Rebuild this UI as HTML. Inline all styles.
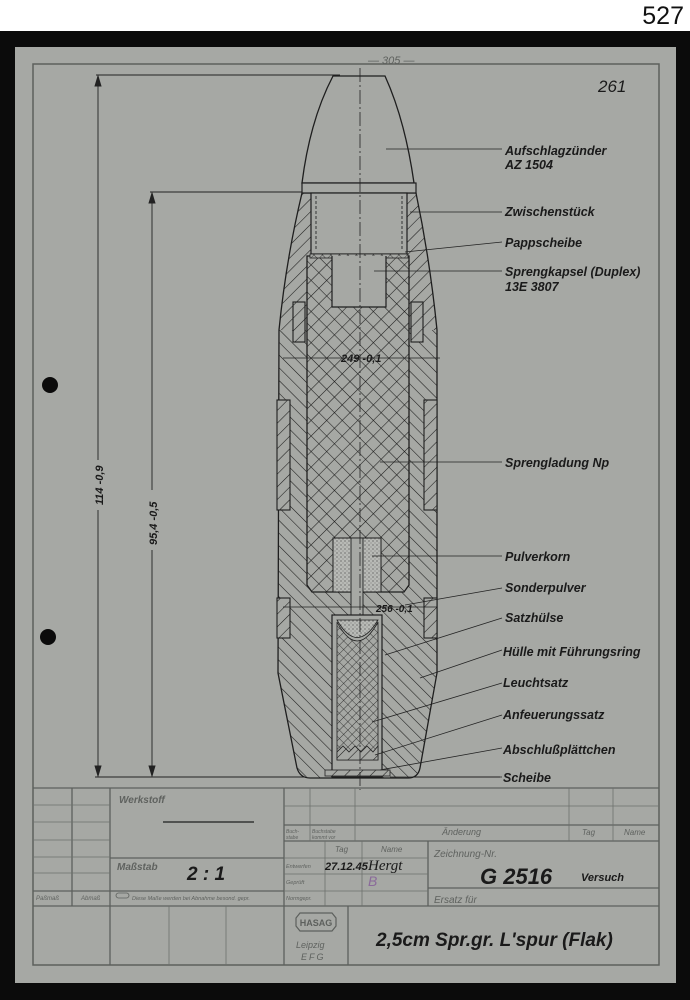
<!DOCTYPE html>
<html><head><meta charset="utf-8">
<style>
html,body{margin:0;padding:0;background:#fff;}
body{width:690px;height:1000px;position:relative;overflow:hidden;font-family:"Liberation Sans",sans-serif;}
.t{font-family:"Liberation Sans",sans-serif;font-style:italic;fill:#1a1a1a;}
.g{font-family:"Liberation Sans",sans-serif;font-style:italic;fill:#5f625f;}
</style></head><body>
<div style="position:absolute;right:6px;top:2px;font-size:25px;color:#111;">527</div>
<svg width="690" height="1000" style="position:absolute;left:0;top:0" xmlns="http://www.w3.org/2000/svg">
<defs>
<pattern id="hd" width="9" height="9" patternUnits="userSpaceOnUse" patternTransform="rotate(45)"><rect width="9" height="9" fill="#a6a8a4"/><line x1="0" y1="0" x2="0" y2="9" stroke="#1a1a1a" stroke-width="1.1"/></pattern>
<pattern id="hd2" width="9" height="9" patternUnits="userSpaceOnUse" patternTransform="rotate(-45)"><rect width="9" height="9" fill="#a6a8a4"/><line x1="0" y1="0" x2="0" y2="9" stroke="#1a1a1a" stroke-width="1.1"/></pattern>
<pattern id="xh" width="11" height="11" patternUnits="userSpaceOnUse" patternTransform="rotate(45)"><rect width="11" height="11" fill="#a6a8a4"/><line x1="0" y1="0" x2="0" y2="11" stroke="#1a1a1a" stroke-width="1.1"/><line x1="0" y1="0" x2="11" y2="0" stroke="#1a1a1a" stroke-width="1.1"/></pattern>
<pattern id="xs" width="6" height="6" patternUnits="userSpaceOnUse" patternTransform="rotate(45)"><rect width="6" height="6" fill="#a6a8a4"/><line x1="0" y1="0" x2="0" y2="6" stroke="#222" stroke-width="0.8"/><line x1="0" y1="0" x2="6" y2="0" stroke="#222" stroke-width="0.8"/></pattern>
<pattern id="dots" width="4" height="4" patternUnits="userSpaceOnUse"><rect width="4" height="4" fill="#b8bab6"/><circle cx="1" cy="1" r="0.6" fill="#444"/><circle cx="3" cy="3" r="0.5" fill="#666"/></pattern>
<clipPath id="bodyclip"><path d="M302 193 Q286 260 279 330 L278 673 L297 768 Q300 778 310 778 L408 778 Q418 778 420 768 L437 673 L437 330 Q430 260 416 193 Z"/></clipPath>
</defs>
<rect x="0" y="31" width="690" height="969" fill="#0b0b0b"/>
<rect x="15" y="47" width="661" height="936" fill="#a6a8a4"/>
<rect x="33" y="64" width="626" height="901" fill="none" stroke="#5d605d" stroke-width="1.5"/>
<circle cx="50" cy="385" r="8" fill="#0b0b0b"/><circle cx="48" cy="637" r="8" fill="#0b0b0b"/>
<text x="368" y="64" class="g" font-size="11" fill="#777">— 305 —</text>
<text x="598" y="92" class="t" font-size="17" fill="#333">261</text>

<g stroke="#222" stroke-width="0.9" fill="#222">
<line x1="96" y1="75" x2="340" y2="75"/>
<line x1="150" y1="192" x2="305" y2="192"/>
<line x1="95" y1="777" x2="500" y2="777"/>
<line x1="98" y1="77" x2="98" y2="460"/><line x1="98" y1="510" x2="98" y2="775"/>
<line x1="152" y1="194" x2="152" y2="490"/><line x1="152" y1="550" x2="152" y2="775"/>
<path d="M98 76 l-3 10 h6z M98 776 l-3 -10 h6z M152 193 l-3 10 h6z M152 776 l-3 -10 h6z"/>
</g>
<text class="t" font-size="11" font-weight="bold" transform="translate(103,505) rotate(-90)">114 -0,9</text>
<text class="t" font-size="11" font-weight="bold" transform="translate(157,545) rotate(-90)">95,4 -0,5</text>

<g clip-path="url(#bodyclip)">
<rect x="270" y="190" width="180" height="140" fill="url(#hd)"/>
<rect x="270" y="330" width="180" height="460" fill="url(#hd2)"/>
</g>
<path d="M302 193 Q286 260 279 330 L278 673 L297 768 Q300 778 310 778 L408 778 Q418 778 420 768 L437 673 L437 330 Q430 260 416 193 Z" fill="none" stroke="#1e1e1e" stroke-width="1.3"/>
<g fill="url(#hd)" stroke="#1e1e1e" stroke-width="1.1">
<rect x="277" y="400" width="13" height="110"/><rect x="424" y="400" width="13" height="110"/>
<rect x="277" y="598" width="13" height="40"/><rect x="424" y="598" width="13" height="40"/>
<rect x="293" y="302" width="12" height="40"/><rect x="411" y="302" width="12" height="40"/>
</g>
<path d="M333 76 L385 76 Q405 120 414 183 L302 183 Q310 120 333 76Z" fill="#a6a8a4" stroke="#1e1e1e" stroke-width="1.3"/>
<rect x="302" y="183" width="114" height="10" fill="#a6a8a4" stroke="#1e1e1e" stroke-width="1.2"/>
<rect x="311" y="193" width="96" height="61" fill="#a6a8a4" stroke="#1e1e1e" stroke-width="1.2"/>
<line x1="316" y1="196" x2="316" y2="250" stroke="#333" stroke-dasharray="3,2"/>
<line x1="402" y1="196" x2="402" y2="250" stroke="#333" stroke-dasharray="3,2"/>
<path d="M307 256 L409 256 L409 585 L404 592 L312 592 L307 585Z" fill="url(#xh)" stroke="#1e1e1e" stroke-width="1.3"/>
<rect x="310" y="254" width="98" height="4" fill="url(#xs)" stroke="#222" stroke-width="0.8"/>
<path d="M332 256 L332 307 L386 307 L386 256" fill="#a6a8a4" stroke="#1e1e1e" stroke-width="1.2"/>
<rect x="333" y="538" width="48" height="54" fill="url(#dots)" stroke="#1e1e1e" stroke-width="1"/>
<rect x="351" y="538" width="12" height="77" fill="#a6a8a4" stroke="#1e1e1e" stroke-width="0.9"/>
<rect x="332" y="615" width="50" height="162" fill="#a6a8a4" stroke="#1e1e1e" stroke-width="1.2"/>
<path d="M337 622 Q357 660 378 622 L378 760 L337 760Z" fill="url(#xs)" stroke="#222" stroke-width="0.8"/>
<path d="M337 620 Q357 655 378 620Z" fill="url(#dots)" stroke="#222" stroke-width="0.8"/>
<path d="M337 752 l6 -6 l6 6 l6 -6 l6 6 l6 -6 l6 6 l5 -6 V760 H337Z" fill="url(#hd)" stroke="#222" stroke-width="0.8"/>
<rect x="325" y="770" width="65" height="6" fill="url(#hd)" stroke="#222" stroke-width="0.8"/>
<line x1="360" y1="68" x2="360" y2="790" stroke="#222" stroke-width="0.8" stroke-dasharray="14,3,2,3"/>
<line x1="283" y1="358" x2="440" y2="358" stroke="#222" stroke-width="0.8"/>
<text x="341" y="362" class="t" font-size="11" font-weight="bold">249 -0,1</text>
<line x1="283" y1="607" x2="437" y2="607" stroke="#222" stroke-width="0.8"/>
<text x="376" y="612" class="t" font-size="10" font-weight="bold">256 -0,1</text>

<g stroke="#222" stroke-width="0.8" fill="none">
<path d="M386 149 L502 149"/><path d="M410 212 L502 212"/><path d="M405 252 L502 242"/>
<path d="M374 271 L502 271"/><path d="M380 462 L502 462"/><path d="M372 556 L502 556"/>
<path d="M405 605 L502 588"/><path d="M385 655 L502 618"/><path d="M420 678 L502 650"/>
<path d="M372 722 L502 683"/><path d="M375 755 L502 715"/><path d="M380 770 L502 748"/>
<path d="M390 777 L502 777"/>
</g>
<g class="t" font-size="12.5" font-weight="bold">
<text x="505" y="155">Aufschlagzünder</text><text x="505" y="169">AZ  1504</text>
<text x="505" y="216">Zwischenstück</text>
<text x="505" y="247">Pappscheibe</text>
<text x="505" y="276">Sprengkapsel (Duplex)</text><text x="505" y="291">13E  3807</text>
<text x="505" y="467">Sprengladung  Np</text>
<text x="505" y="561">Pulverkorn</text>
<text x="505" y="592">Sonderpulver</text>
<text x="505" y="622">Satzhülse</text>
<text x="503" y="656">Hülle mit Führungsring</text>
<text x="503" y="687">Leuchtsatz</text>
<text x="503" y="719">Anfeuerungssatz</text>
<text x="503" y="754">Abschlußplättchen</text>
<text x="503" y="782">Scheibe</text>
</g>

<g stroke="#5d605d" stroke-width="1.3" fill="none">
<line x1="33" y1="788" x2="659" y2="788"/>
<line x1="33" y1="906" x2="659" y2="906"/>
<line x1="72" y1="788" x2="72" y2="906"/>
<line x1="110" y1="788" x2="110" y2="965"/>
<line x1="284" y1="788" x2="284" y2="965"/>
<line x1="33" y1="891" x2="284" y2="891"/>
<line x1="110" y1="858" x2="284" y2="858"/>
<line x1="284" y1="841" x2="659" y2="841"/>
<line x1="284" y1="825" x2="659" y2="825"/>
<line x1="428" y1="888" x2="659" y2="888"/>
<line x1="428" y1="841" x2="428" y2="906"/>
<line x1="348" y1="906" x2="348" y2="965"/>
</g>
<g stroke="#6d706d" stroke-width="0.8" fill="none">
<line x1="33" y1="805" x2="110" y2="805"/><line x1="33" y1="822" x2="110" y2="822"/>
<line x1="33" y1="840" x2="110" y2="840"/><line x1="33" y1="857" x2="110" y2="857"/>
<line x1="33" y1="873" x2="110" y2="873"/>
<line x1="310" y1="788" x2="310" y2="841"/><line x1="355" y1="788" x2="355" y2="841"/>
<line x1="569" y1="788" x2="569" y2="841"/><line x1="613" y1="788" x2="613" y2="841"/>
<line x1="284" y1="806" x2="355" y2="806"/><line x1="355" y1="806" x2="659" y2="806"/>
<line x1="325" y1="841" x2="325" y2="906"/><line x1="362" y1="841" x2="362" y2="906"/>
<line x1="284" y1="858" x2="428" y2="858"/><line x1="284" y1="874" x2="428" y2="874"/>
<line x1="284" y1="891" x2="428" y2="891"/>
<line x1="169" y1="906" x2="169" y2="965"/><line x1="226" y1="906" x2="226" y2="965"/>
</g>
<line x1="163" y1="822" x2="254" y2="822" stroke="#1e1e1e" stroke-width="1.3"/>
<g class="g">
<text x="119" y="803" font-size="10" font-weight="bold">Werkstoff</text>
<text x="117" y="870" font-size="10" font-weight="bold">Maßstab</text>
<text x="36" y="900" font-size="6">Paßmaß</text><text x="81" y="900" font-size="6">Abmaß</text>
<text x="132" y="900" font-size="5.5">Diese Maße werden bei Abnahme besond. gepr.</text>
<text x="286" y="833" font-size="5">Buch-</text><text x="286" y="839" font-size="5">stabe</text>
<text x="312" y="833" font-size="5">Buchstabe</text><text x="312" y="839" font-size="5">kommt vor</text>
<text x="442" y="835" font-size="9">Änderung</text>
<text x="582" y="835" font-size="8">Tag</text><text x="624" y="835" font-size="8">Name</text>
<text x="335" y="852" font-size="8">Tag</text><text x="381" y="852" font-size="8">Name</text>
<text x="286" y="868" font-size="5.5">Entwerfen</text><text x="286" y="884" font-size="5.5">Geprüft</text><text x="286" y="900" font-size="5.5">Normgepr.</text>
<text x="434" y="857" font-size="10">Zeichnung-Nr.</text>
<text x="434" y="903" font-size="10">Ersatz für</text>
<text x="296" y="948" font-size="9">Leipzig</text>
<text x="301" y="960" font-size="9" letter-spacing="2">EFG</text>
</g>
<rect x="116" y="893" width="13" height="5" rx="2.5" fill="none" stroke="#5d605d" stroke-width="0.8"/>
<path d="M296 918 L300 913 L332 913 L336 918 L336 926 L332 931 L300 931 L296 926Z" fill="none" stroke="#5d605d" stroke-width="1.2"/>
<text x="316" y="926" font-size="9" text-anchor="middle" fill="#5d605d" font-family="Liberation Sans" font-weight="bold">HASAG</text>
<g class="t">
<text x="187" y="880" font-size="19" font-weight="bold">2 : 1</text>
<text x="325" y="870" font-size="11" font-weight="bold">27.12.45</text>
<text x="368" y="870" font-size="15" font-family="Liberation Serif">Hergt</text>
<text x="480" y="884" font-size="22" font-weight="bold">G  2516</text>
<text x="581" y="881" font-size="11" font-weight="bold">Versuch</text>
<text x="376" y="946" font-size="19" font-weight="bold">2,5cm  Spr.gr. L'spur (Flak)</text>
</g>
<text x="368" y="886" font-size="14" fill="#8a6a9a" font-style="italic">B</text>
</svg>
</body></html>
